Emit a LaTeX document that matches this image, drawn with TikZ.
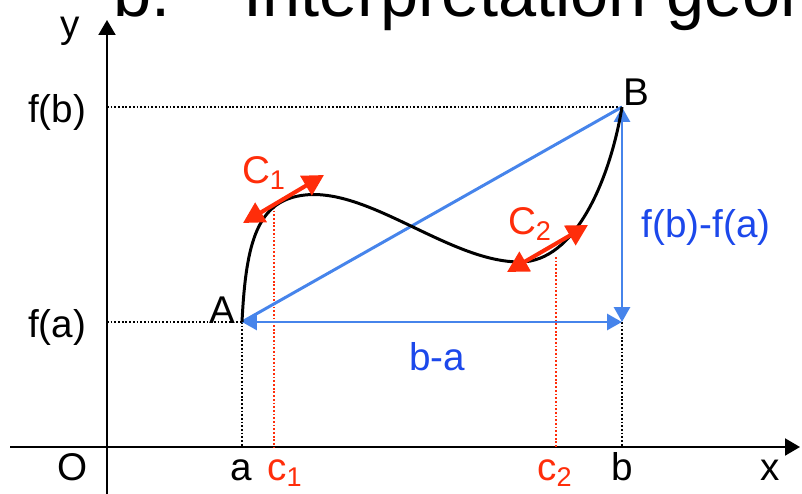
\documentclass[tikz,border=0pt]{standalone}
\usepackage{fontspec}
\setmainfont{Liberation Sans}
\usetikzlibrary{arrows.meta}

\definecolor{lineblue}{RGB}{70,132,235}
\definecolor{textblue}{RGB}{28,72,235}
\definecolor{tanred}{RGB}{255,45,10}

\tikzset{
  axis/.style={line width=1.2pt, -{Triangle[length=0.3cm,width=0.34cm]}},
  guide/.style={line width=0.9pt, dash pattern=on 1pt off 1.1pt},
  redguide/.style={guide, tanred},
  secant/.style={lineblue, line width=1.7pt},
  span/.style={secant, {Triangle[length=0.3cm,width=0.32cm]}-{Triangle[length=0.3cm,width=0.32cm]}},
  tangent/.style={tanred, line width=2.3pt, {Triangle[length=0.42cm,width=0.44cm]}-{Triangle[length=0.42cm,width=0.44cm]}},
  curve/.style={line width=1.7pt},
  lbl/.style={font=\fontsize{22}{26}\selectfont, inner sep=0pt, anchor=base},
  title/.style={font=\fontsize{39}{45}\selectfont, inner sep=0pt, anchor=base west},
}

\begin{document}
\begin{tikzpicture}[x=0.02cm, y=-0.02cm]
    \useasboundingbox (0,0) rectangle (802,494);
    \clip (0,0) rectangle (802,494);

    % title, cut by the top edge
    \node[title] (num) at (113,16) {b.};
    \node[title] (head) at (243,16) {Interprétation géométrique};

    % points
    \coordinate (O) at (107,447);
    \coordinate (A) at (242,322);
    \coordinate (B) at (622,107);
    \coordinate (P) at (622,322);
    \coordinate (ya) at (107,322);
    \coordinate (yb) at (107,107);
    \coordinate (xa) at (242,447);
    \coordinate (xb) at (622,447);
    \coordinate (xc1) at (274,447);
    \coordinate (xc2) at (556,447);
    \coordinate (pc1) at (274,207);
    \coordinate (pc2) at (556,257);
    \coordinate (xs) at (10,447);
    \coordinate (xe) at (800,447);
    \coordinate (ys) at (107,494);
    \coordinate (ye) at (107,20);

    % axes
    \draw[axis] (xs) -- (xe);
    \draw[axis] (ys) -- (ye);

    % guide lines
    \draw[guide] (yb) -- (B);
    \draw[guide] (ya) -- (A);
    \draw[guide] (A) -- (xa);
    \draw[guide] (P) -- (xb);
    \draw[redguide] (pc1) -- (xc1);
    \draw[redguide] (pc2) -- (xc2);

    % secant and its two sides
    \draw[secant] (A) -- (B);
    \draw[span] (A) -- (P);
    \draw[span] (P) -- (B);

    % graph of f
    \draw[curve] (A) .. controls (246,240) and (258,200) .. (305,195)
        .. controls (370,188) and (450,262) .. (520,262)
        .. controls (575,262) and (610,180) .. (B);

    % tangents at c1 and c2
    \coordinate (t1a) at (243,223);
    \coordinate (t1b) at (324,175);
    \coordinate (t2a) at (507,272);
    \coordinate (t2b) at (588,225);
    \draw[tangent] (t1a) -- (t1b);
    \draw[tangent] (t2a) -- (t2b);

    % labels
    \node[lbl] (ly) at (70,37) {y};
    \node[lbl] (lo) at (73,480) {O};
    \node[lbl] (lx) at (770,480) {x};
    \node[lbl] (la) at (241,480) {a};
    \node[lbl] (lb) at (622,480) {b};
    \node[lbl, tanred] (lc1) at (285,480) {c\textsubscript{1}};
    \node[lbl, tanred] (lc2) at (555,480) {c\textsubscript{2}};
    \node[lbl] (lfb) at (57,122) {f(b)};
    \node[lbl] (lfa) at (57,337) {f(a)};
    \node[lbl] (lA) at (222,323) {A};
    \node[lbl] (lB) at (636,105) {B};
    \node[lbl, tanred] (lC1) at (264,183) {C\textsubscript{1}};
    \node[lbl, tanred] (lC2) at (530,234) {C\textsubscript{2}};
    \node[lbl, textblue] (lba) at (437,370) {b-a};
    \node[lbl, textblue] (lfba) at (706,237) {f(b)-f(a)};
\end{tikzpicture}
\end{document}
